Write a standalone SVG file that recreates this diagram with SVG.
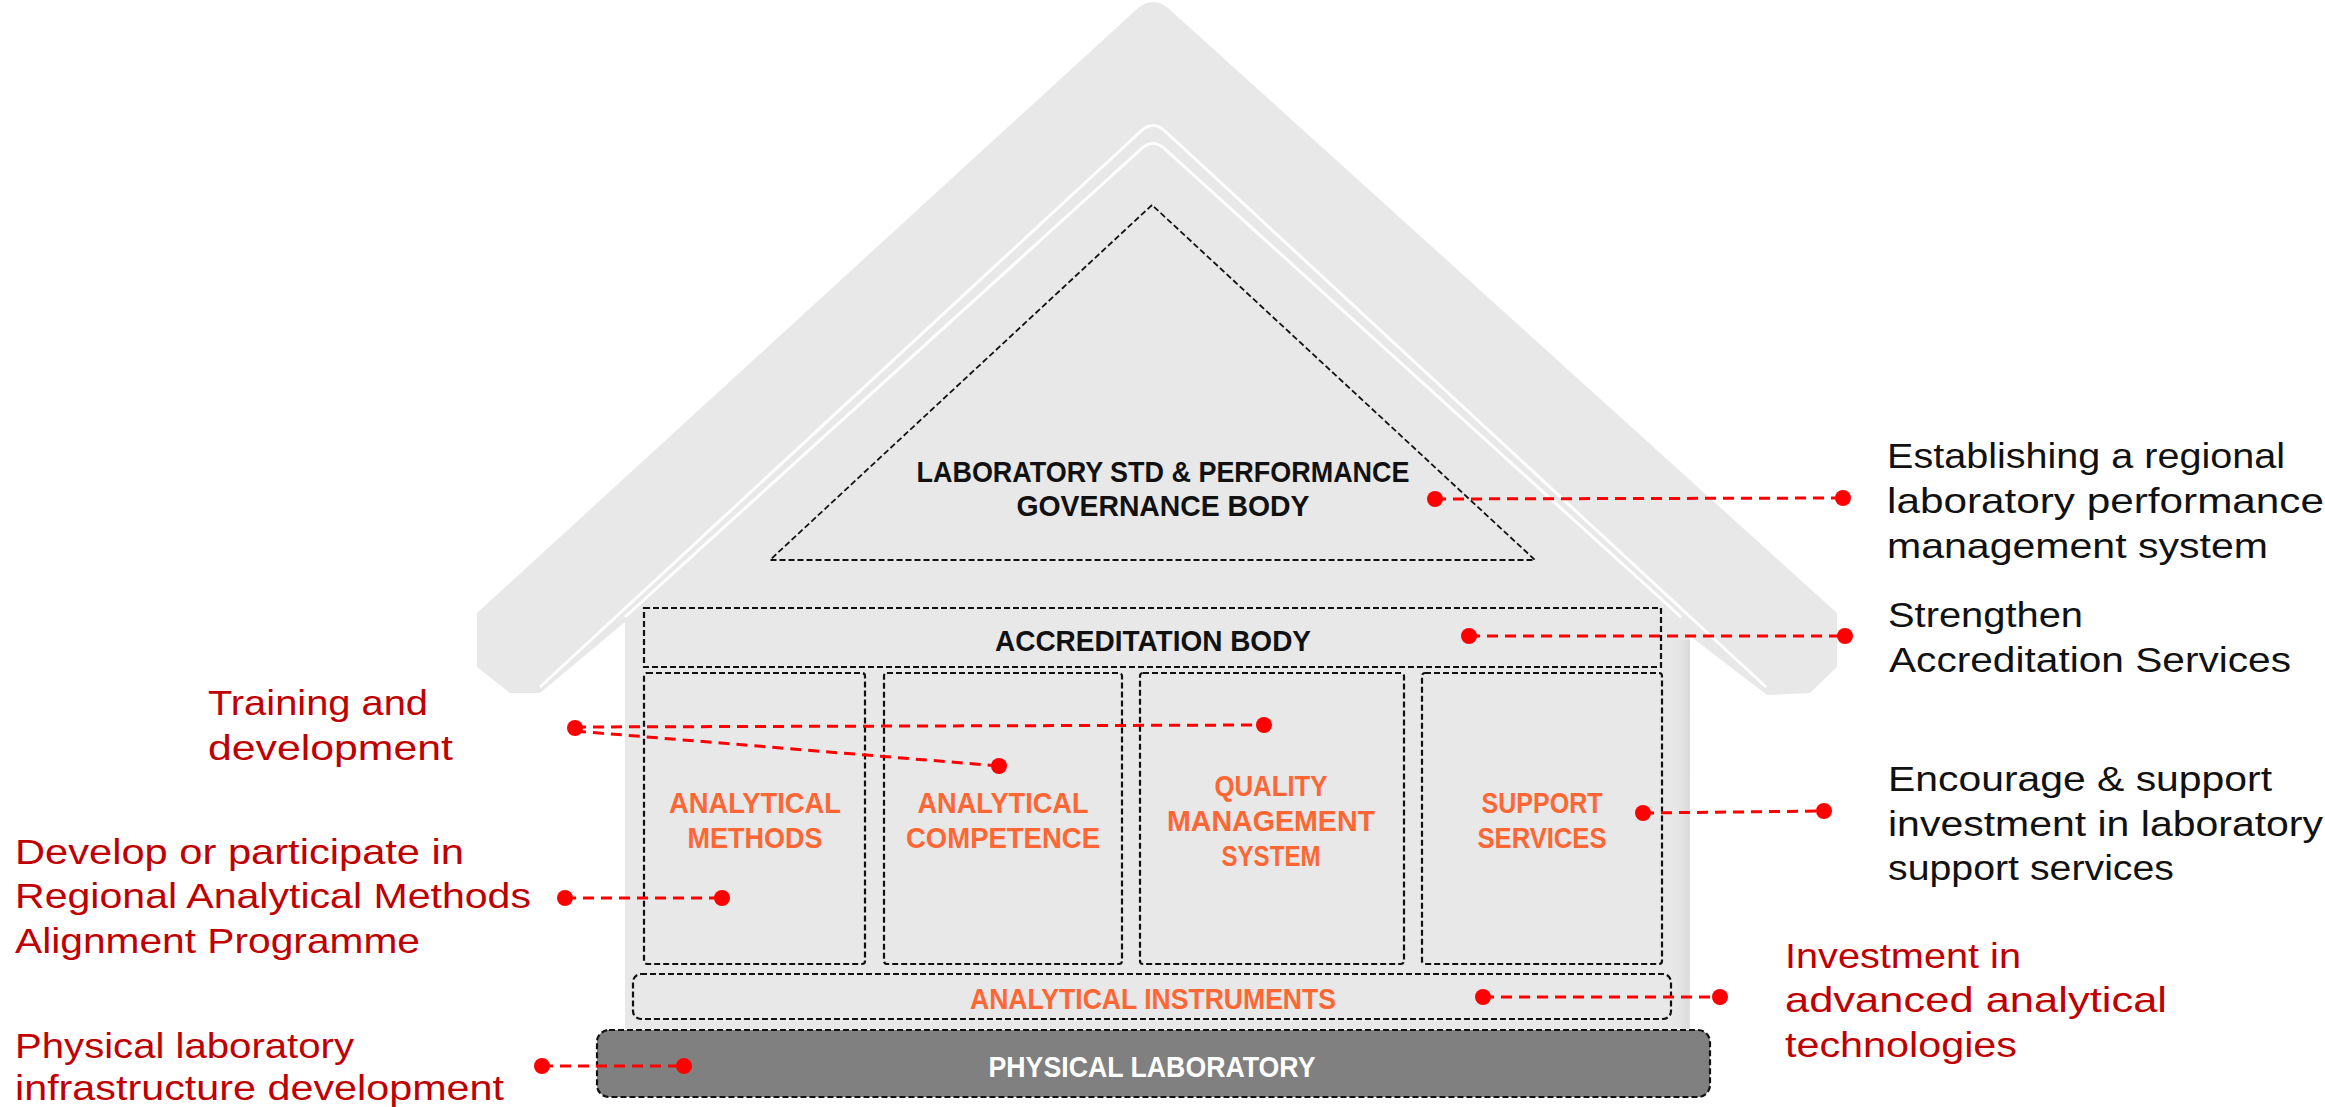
<svg xmlns="http://www.w3.org/2000/svg" width="2325" height="1107" viewBox="0 0 2325 1107">
<defs>
<style>
.box{fill:#e8e8e8;stroke:#111;stroke-width:2.2;stroke-dasharray:6 3}
.tri{fill:none;stroke:#111;stroke-width:1.8;stroke-dasharray:6 3}
.hl{fill:none;stroke:#ffffff;stroke-width:3;stroke-opacity:0.95}
.con{fill:none;stroke:#ff0000;stroke-width:3;stroke-dasharray:11 7}
.dot{fill:#ff0000}
.cap{font-family:"Liberation Sans",Arial,sans-serif;font-weight:bold;font-size:30px;text-anchor:middle}
.blk{fill:#111}
.org{fill:#ff6633}
.wht{fill:#ffffff}
.lbl{font-family:"Liberation Sans",Arial,sans-serif;font-size:35px}
.red{fill:#c00000}
.dark{fill:#111}
</style>
<linearGradient id="shR" x1="0" y1="0" x2="1" y2="0">
<stop offset="0" stop-color="#e8e8e8" stop-opacity="0"/>
<stop offset="1" stop-color="#d4d4d4" stop-opacity="0.8"/>
</linearGradient>
</defs>

<g id="house">
<path d="M477,613 L1138,8 Q1153,-4 1168,8 L1837,613 L1837,667 L1810,693 L1767,695 L1690,636 L1688,1029 L625,1029 L625,622 L540,693 L510,693 L477,667 Z" fill="#e8e8e8"/>
<rect x="1670" y="640" width="20" height="389" fill="url(#shR)"/>
<path class="hl" d="M540,687 L1140,132 Q1153,119 1166,132 L1766,687"/>
<path class="hl" d="M625,617 L1140,150 Q1153,137 1166,150 L1681,617"/>
</g>

<g id="governance">
<polygon class="tri" points="1152,205 770,560 1535,560"/>
<text class="cap blk" x="1163" y="482" textLength="493" lengthAdjust="spacingAndGlyphs">LABORATORY STD &amp; PERFORMANCE</text>
<text class="cap blk" x="1163" y="516" textLength="293" lengthAdjust="spacingAndGlyphs">GOVERNANCE BODY</text>
</g>

<g id="accreditation">
<rect class="box" x="644" y="608" width="1017" height="59"/>
<text class="cap blk" x="1153" y="651" textLength="316" lengthAdjust="spacingAndGlyphs">ACCREDITATION BODY</text>
</g>

<g id="methods">
<rect class="box" x="644" y="673" width="221" height="291" rx="3"/>
<text class="cap org" x="755" y="813" textLength="172" lengthAdjust="spacingAndGlyphs">ANALYTICAL</text>
<text class="cap org" x="755" y="848" textLength="135" lengthAdjust="spacingAndGlyphs">METHODS</text>
</g>

<g id="competence">
<rect class="box" x="884" y="673" width="238" height="291" rx="3"/>
<text class="cap org" x="1003" y="813" textLength="171" lengthAdjust="spacingAndGlyphs">ANALYTICAL</text>
<text class="cap org" x="1003" y="848" textLength="194" lengthAdjust="spacingAndGlyphs">COMPETENCE</text>
</g>

<g id="qms">
<rect class="box" x="1140" y="673" width="264" height="291" rx="3"/>
<text class="cap org" x="1271" y="796" textLength="113" lengthAdjust="spacingAndGlyphs">QUALITY</text>
<text class="cap org" x="1271" y="831" textLength="208" lengthAdjust="spacingAndGlyphs">MANAGEMENT</text>
<text class="cap org" x="1271" y="866" textLength="99" lengthAdjust="spacingAndGlyphs">SYSTEM</text>
</g>

<g id="support">
<rect class="box" x="1422" y="673" width="240" height="291" rx="3"/>
<text class="cap org" x="1542" y="813" textLength="121" lengthAdjust="spacingAndGlyphs">SUPPORT</text>
<text class="cap org" x="1542" y="848" textLength="129" lengthAdjust="spacingAndGlyphs">SERVICES</text>
</g>

<g id="instruments">
<rect class="box" x="633" y="974" width="1038" height="45" rx="8"/>
<text class="cap org" x="1153" y="1009" textLength="366" lengthAdjust="spacingAndGlyphs">ANALYTICAL INSTRUMENTS</text>
</g>

<g id="physical">
<rect class="box" x="597" y="1030" width="1113" height="67" rx="12" style="fill:#808080"/>
<text class="cap wht" x="1152" y="1077" textLength="327" lengthAdjust="spacingAndGlyphs">PHYSICAL LABORATORY</text>
</g>

<g id="connectors">
<line class="con" x1="1435" y1="499" x2="1843" y2="498"/>
<circle class="dot" cx="1435" cy="499" r="8"/><circle class="dot" cx="1843" cy="498" r="8"/>
<line class="con" x1="1469" y1="636" x2="1845" y2="636"/>
<circle class="dot" cx="1469" cy="636" r="8"/><circle class="dot" cx="1845" cy="636" r="8"/>
<line class="con" x1="1643" y1="813" x2="1824" y2="811"/>
<circle class="dot" cx="1643" cy="813" r="8"/><circle class="dot" cx="1824" cy="811" r="8"/>
<line class="con" x1="1483" y1="997" x2="1720" y2="997"/>
<circle class="dot" cx="1483" cy="997" r="8"/><circle class="dot" cx="1720" cy="997" r="8"/>
<line class="con" x1="575" y1="727" x2="1264" y2="725"/>
<line class="con" x1="575" y1="731" x2="999" y2="766"/>
<circle class="dot" cx="575" cy="728" r="8"/><circle class="dot" cx="1264" cy="725" r="8"/><circle class="dot" cx="999" cy="766" r="8"/>
<line class="con" x1="565" y1="898" x2="722" y2="898"/>
<circle class="dot" cx="565" cy="898" r="8"/><circle class="dot" cx="722" cy="898" r="8"/>
<line class="con" x1="542" y1="1066" x2="684" y2="1066"/>
<circle class="dot" cx="542" cy="1066" r="8"/><circle class="dot" cx="684" cy="1066" r="8"/>
</g>

<g id="label-training">
<text class="lbl red" x="208" y="715" textLength="220" lengthAdjust="spacingAndGlyphs">Training and</text>
<text class="lbl red" x="208" y="760" textLength="245" lengthAdjust="spacingAndGlyphs">development</text>
</g>
<g id="label-methods">
<text class="lbl red" x="15" y="864" textLength="449" lengthAdjust="spacingAndGlyphs">Develop or participate in</text>
<text class="lbl red" x="15" y="908" textLength="516" lengthAdjust="spacingAndGlyphs">Regional Analytical Methods</text>
<text class="lbl red" x="15" y="953" textLength="405" lengthAdjust="spacingAndGlyphs">Alignment Programme</text>
</g>
<g id="label-physical">
<text class="lbl red" x="15" y="1058" textLength="339" lengthAdjust="spacingAndGlyphs">Physical laboratory</text>
<text class="lbl red" x="15" y="1100" textLength="489" lengthAdjust="spacingAndGlyphs">infrastructure development</text>
</g>
<g id="label-governance">
<text class="lbl dark" x="1887" y="468" textLength="398" lengthAdjust="spacingAndGlyphs">Establishing a regional</text>
<text class="lbl dark" x="1887" y="513" textLength="437" lengthAdjust="spacingAndGlyphs">laboratory performance</text>
<text class="lbl dark" x="1887" y="558" textLength="381" lengthAdjust="spacingAndGlyphs">management system</text>
</g>
<g id="label-accreditation">
<text class="lbl dark" x="1888" y="627" textLength="195" lengthAdjust="spacingAndGlyphs">Strengthen</text>
<text class="lbl dark" x="1889" y="672" textLength="402" lengthAdjust="spacingAndGlyphs">Accreditation Services</text>
</g>
<g id="label-support">
<text class="lbl dark" x="1888" y="791" textLength="384" lengthAdjust="spacingAndGlyphs">Encourage &amp; support</text>
<text class="lbl dark" x="1888" y="836" textLength="435" lengthAdjust="spacingAndGlyphs">investment in laboratory</text>
<text class="lbl dark" x="1888" y="880" textLength="286" lengthAdjust="spacingAndGlyphs">support services</text>
</g>
<g id="label-instruments">
<text class="lbl red" x="1785" y="968" textLength="236" lengthAdjust="spacingAndGlyphs">Investment in</text>
<text class="lbl red" x="1785" y="1012" textLength="382" lengthAdjust="spacingAndGlyphs">advanced analytical</text>
<text class="lbl red" x="1785" y="1057" textLength="232" lengthAdjust="spacingAndGlyphs">technologies</text>
</g>
</svg>
